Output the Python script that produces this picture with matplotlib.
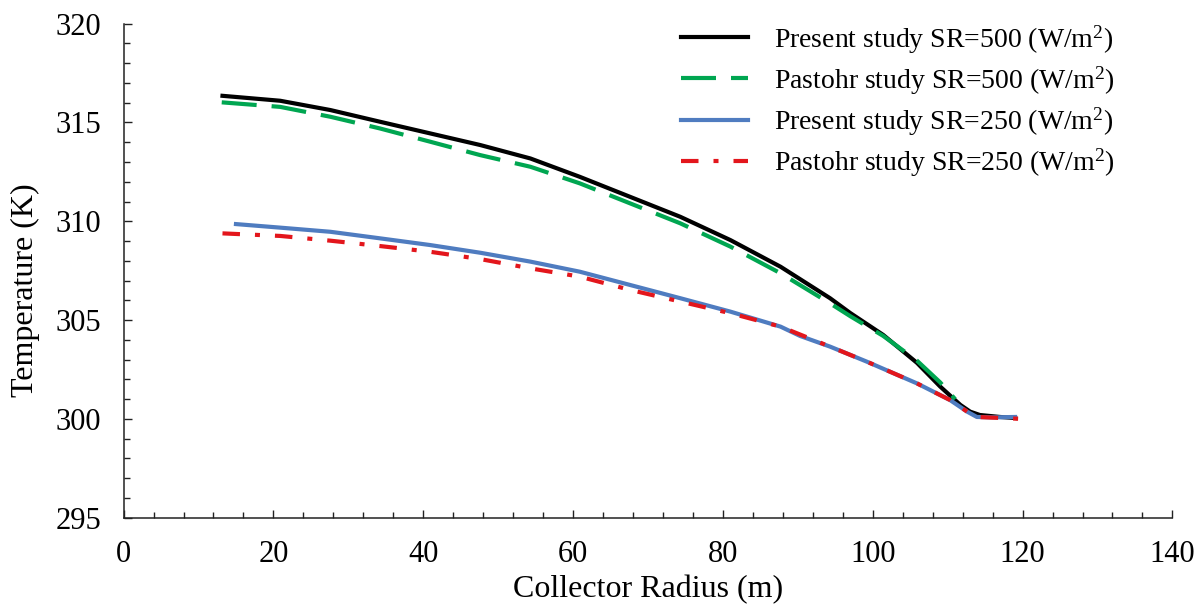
import matplotlib
matplotlib.use('Agg')
import matplotlib.pyplot as plt
from matplotlib.ticker import MultipleLocator

plt.rcParams.update({
    'font.family': ['Liberation Serif', 'DejaVu Serif'],
    'mathtext.default': 'regular',
    'figure.dpi': 100,
    'savefig.dpi': 100,
})

# Present study SR=500
r_p500 = [13.2, 20.9, 27.6, 34.2, 40.9, 47.6, 54.3, 60.9, 67.6, 74.3, 81.0, 87.7,
          94.3, 97.0, 101.4, 105.9, 109.0, 111.7, 113.0, 114.3, 117.0, 119.0]
t_p500 = [316.35, 316.10, 315.63, 315.04, 314.45, 313.86, 313.18, 312.25, 311.24, 310.23, 309.05, 307.70,
          306.11, 305.36, 304.25, 302.84, 301.64, 300.71, 300.37, 300.20, 300.10, 300.05]

# Pastohr study SR=500
r_s500 = [13.1, 20.9, 27.6, 34.2, 40.9, 47.6, 54.3, 60.9, 67.6, 74.3, 81.0, 87.7,
          94.3, 97.0, 101.4, 105.9, 109.0, 111.0]
t_s500 = [316.02, 315.79, 315.29, 314.70, 314.03, 313.35, 312.76, 311.92, 310.91, 309.90, 308.72, 307.37,
          305.85, 305.20, 304.20, 302.95, 301.85, 301.00]

# Present study SR=250
r_p250 = [15.0, 20.9, 27.6, 34.2, 40.9, 47.6, 54.3, 60.9, 67.6, 74.3, 81.0, 87.7,
          90.3, 94.3, 99.2, 105.9, 110.3, 112.6, 113.9, 116.0, 119.0]
t_p250 = [309.86, 309.68, 309.47, 309.14, 308.80, 308.41, 307.96, 307.45, 306.78, 306.11, 305.43, 304.67,
          304.20, 303.66, 302.90, 301.80, 300.96, 300.37, 300.10, 300.08, 300.10]

# Pastohr study SR=250
r_s250 = [13.2, 20.9, 27.6, 34.2, 40.9, 47.6, 54.3, 60.9, 67.6, 74.3, 81.0, 87.7,
          94.3, 99.2, 105.9, 110.3, 112.6, 113.9, 117.0, 120.0]
t_s250 = [309.39, 309.26, 309.02, 308.75, 308.46, 308.09, 307.62, 307.20, 306.53, 305.94, 305.35, 304.67,
          303.66, 302.90, 301.80, 300.96, 300.37, 300.10, 300.05, 300.00]

labels = ['Present study SR=500 (W/m$^2$)',
          'Pastohr study SR=500 (W/m$^2$)',
          'Present study SR=250 (W/m$^2$)',
          'Pastohr study SR=250 (W/m$^2$)']

fig = plt.figure(figsize=(12, 6.07))
ax = fig.add_axes([0.103, 0.147, 0.874, 0.814])

ax.plot(r_p500, t_p500, color='black', lw=3, label=labels[0])
ax.plot(r_s500, t_s500, color='#00A651', lw=3, dashes=(8.4, 3.6), label=labels[1])
ax.plot(r_p250, t_p250, color='#4F7CC0', lw=3, label=labels[2])
ax.plot(r_s250, t_s250, color='#E3161C', lw=3, dashes=(4.2, 3.6, 1.2, 3.6), label=labels[3])

ax.set_xlim(0, 140)
ax.set_ylim(295, 320)
ax.xaxis.set_major_locator(MultipleLocator(20))
ax.xaxis.set_minor_locator(MultipleLocator(4))
ax.yaxis.set_major_locator(MultipleLocator(5))
ax.yaxis.set_minor_locator(MultipleLocator(1))
ax.tick_params(which='both', direction='in', width=1, color='#222222', labelsize=22)
ax.tick_params(which='major', length=6)
ax.tick_params(which='minor', length=4)
ax.tick_params(axis='x', which='major', pad=16)
ax.tick_params(axis='y', which='major', pad=16)
for s in ['top', 'right']:
    ax.spines[s].set_visible(False)
for s in ['left', 'bottom']:
    ax.spines[s].set_linewidth(1.1)
    ax.spines[s].set_color('#222222')

ax.set_xlabel('Collector Radius (m)', fontsize=23, labelpad=4)
ax.set_ylabel('Temperature (K)', fontsize=23)
ax.yaxis.set_label_coords(-0.08, 0.46)

ax.legend(loc='upper left', bbox_to_anchor=(681 / 1200, 1 - 23 / 607), bbox_transform=fig.transFigure,
          frameon=False, fontsize=20, handlelength=2.4, handletextpad=0.95,
          labelspacing=0.31, borderpad=0, borderaxespad=0)

plt.savefig('out.png')
